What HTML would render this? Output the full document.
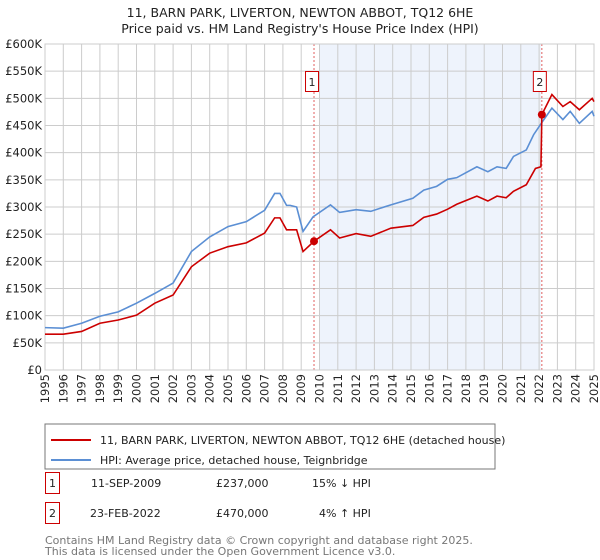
<!DOCTYPE html>
<html><head><meta charset="utf-8"><style>
body{margin:0;background:#fff;font-family:"DejaVu Sans","Liberation Sans",sans-serif;}
svg{display:block}
</style></head><body>
<svg id="c" width="600" height="560" xmlns="http://www.w3.org/2000/svg" font-family="DejaVu Sans, Liberation Sans, sans-serif">
<text x="300" y="17" text-anchor="middle" font-size="12.5" fill="#222">11, BARN PARK, LIVERTON, NEWTON ABBOT, TQ12 6HE</text>
<text x="300" y="33" text-anchor="middle" font-size="12.5" fill="#222">Price paid vs. HM Land Registry's House Price Index (HPI)</text>
<g id="grid"></g><g id="series"></g>
<rect x="45" y="424" width="450" height="45" fill="#fff" stroke="#777"/>
<line x1="51" y1="440" x2="91" y2="440" stroke="#cc0000" stroke-width="2"/>
<text x="100" y="444" font-size="11" fill="#222">11, BARN PARK, LIVERTON, NEWTON ABBOT, TQ12 6HE (detached house)</text>
<line x1="51" y1="460" x2="91" y2="460" stroke="#5b8fd4" stroke-width="2"/>
<text x="100" y="464" font-size="11" fill="#222">HPI: Average price, detached house, Teignbridge</text>
<g font-size="11" fill="#222">
<rect x="45.5" y="472.5" width="14" height="21" fill="#fff" stroke="#cc0000"/>
<text x="52.5" y="487" text-anchor="middle">1</text>
<text x="91" y="487">11-SEP-2009</text>
<text x="216" y="487">£237,000</text>
<text x="312" y="487">15% ↓ HPI</text>
<rect x="45.5" y="502.5" width="14" height="21" fill="#fff" stroke="#cc0000"/>
<text x="52.5" y="517" text-anchor="middle">2</text>
<text x="90" y="517">23-FEB-2022</text>
<text x="216" y="517">£470,000</text>
<text x="319" y="517">4% ↑ HPI</text>
</g>
<text x="45" y="544" font-size="11" fill="#777">Contains HM Land Registry data © Crown copyright and database right 2025.</text>
<text x="45" y="555" font-size="11" fill="#777">This data is licensed under the Open Government Licence v3.0.</text>
</svg>
<script>
const yTicks=[0,50,100,150,200,250,300,350,400,450,500,550,600];
const yTickLabels=["£0","£50K","£100K","£150K","£200K","£250K","£300K","£350K","£400K","£450K","£500K","£550K","£600K"];
const xYears=[1995,1996,1997,1998,1999,2000,2001,2002,2003,2004,2005,2006,2007,2008,2009,2010,2011,2012,2013,2014,2015,2016,2017,2018,2019,2020,2021,2022,2023,2024,2025];
const hpiYears=[1995,1996,1997,1998,1999,2000,2001,2002,2003,2004,2005,2006,2007,2007.55,2007.84,2008.2,2008.4,2008.75,2009.1,2009.65,2010.6,2011.1,2012,2012.8,2013.9,2015.1,2015.7,2016.4,2017,2017.5,2018.6,2019.2,2019.7,2020.2,2020.6,2021.3,2021.7,2022.2,2022.7,2023.3,2023.7,2024.2,2024.9,2025];
const hpiValues=[78,77,86,99,107,123,141,160,218,245,264,273,294,325,325,303,303,300,255,282,304,290,295,292,304,316,331,338,351,354,374,365,374,371,393,405,433,458,482,461,476,454,476,467];
const ppYears=[1995,1996,1997,1998,1999,2000,2001,2002,2003,2004,2005,2006,2007,2007.55,2007.84,2008.2,2008.4,2008.75,2009.1,2009.7,2010.6,2011.1,2012,2012.8,2013.9,2015.1,2015.7,2016.4,2017,2017.5,2018.6,2019.2,2019.7,2020.2,2020.6,2021.3,2021.8,2022.1,2022.15,2022.7,2023.3,2023.7,2024.2,2024.9,2025];
const ppValues=[66,66,71,86,92,101,123,138,190,215,227,234,252,280,280,258,258,258,218,237,258,243,251,246,261,266,281,287,296,305,320,311,320,317,329,341,371,374,470,507,485,494,479,500,494];
const saleYears=[2009.7,2022.15];
const saleValues=[237,470];
const saleLabels=["1","2"];
const X0=45,X1=594,Y0=370,Y1=44;
const xs=y=>X0+(y-1995)/30*(X1-X0);
const ys=v=>Y0-v/600*(Y0-Y1);
const NS="http://www.w3.org/2000/svg";
const grid=document.getElementById('grid'),ser=document.getElementById('series');
function mk(tag,at,parent){const e=document.createElementNS(NS,tag);for(const k in at)e.setAttribute(k,at[k]);parent.appendChild(e);return e;}
const shade=mk('rect',{x:xs(2010),y:Y1,width:xs(2022.1)-xs(2010),height:Y0-Y1,fill:'#eef3fc'},grid);


yTicks.forEach((t,i)=>{
  mk('line',{x1:X0,x2:X1,y1:ys(t),y2:ys(t),stroke:'#cccccc'},grid);
  const tx=mk('text',{x:X0-3,y:ys(t)+4,'text-anchor':'end','font-size':'11.5',fill:'#222'},grid);
  tx.textContent=yTickLabels[i];
  
  
});
xYears.forEach(yr=>{
  mk('line',{x1:xs(yr),x2:xs(yr),y1:Y1,y2:Y0,stroke:'#cccccc'},grid);
  const tx=mk('text',{x:0,y:0,'text-anchor':'end','font-size':'11.5',fill:'#222',transform:`translate(${xs(yr)+4},374) rotate(-90)`},grid);
  tx.textContent=yr;
  
  
});
saleYears.forEach((yr,i)=>{
  mk('line',{x1:xs(yr),x2:xs(yr),y1:Y1,y2:Y0,stroke:'#e06060','stroke-dasharray':'2,2'},grid);
});
mk('rect',{x:X0,y:Y1,width:X1-X0,height:Y0-Y1,fill:'none',stroke:'#cccccc'},grid);
const hp=mk('polyline',{points:hpiYears.map((y,i)=>xs(y)+','+ys(hpiValues[i])).join(' '),fill:'none',stroke:'#5b8fd4','stroke-width':1.6},ser);


const pp=mk('polyline',{points:ppYears.map((y,i)=>xs(y)+','+ys(ppValues[i])).join(' '),fill:'none',stroke:'#cc0000','stroke-width':1.6},ser);


saleYears.forEach((yr,i)=>{
  const c=mk('circle',{cx:xs(yr),cy:ys(saleValues[i]),r:4,fill:'#cc0000'},ser);
  
  
  const b=mk('rect',{x:xs(yr)-8.5,y:71.5,width:13,height:20,fill:'#fff',stroke:'#cc0000'},ser);
  
  
  const t=mk('text',{x:xs(yr)-2,y:86,'text-anchor':'middle','font-size':'11',fill:'#222'},ser);
  t.textContent=saleLabels[i];
  
  
});
</script>
</body></html>
